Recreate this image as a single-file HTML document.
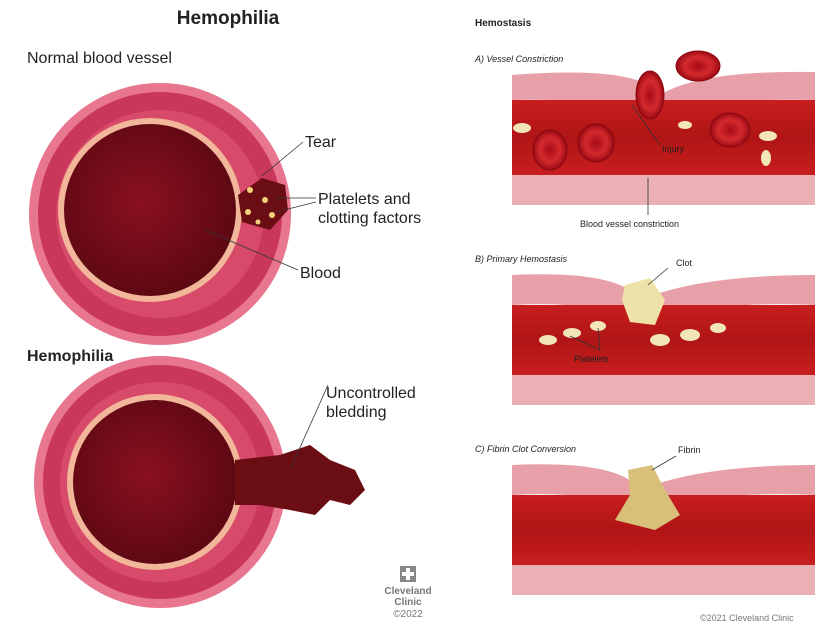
<!DOCTYPE html>
<html><head><meta charset="utf-8"><style>
body{margin:0;background:#fff;}
svg{display:block;font-family:"Liberation Sans",sans-serif;}
</style></head><body>
<svg width="829" height="631" viewBox="0 0 829 631" xmlns="http://www.w3.org/2000/svg">
<defs>
<radialGradient id="lum" cx="45%" cy="45%" r="60%"><stop offset="0" stop-color="#8a1020"/><stop offset="1" stop-color="#5a0812"/></radialGradient>
<linearGradient id="band" x1="0" y1="0" x2="0" y2="1"><stop offset="0" stop-color="#c81e1e"/><stop offset="0.5" stop-color="#b01515"/><stop offset="1" stop-color="#c81e1e"/></linearGradient>
<radialGradient id="rbc" cx="50%" cy="50%" r="50%"><stop offset="0" stop-color="#a80c18"/><stop offset="0.6" stop-color="#d42a2e"/><stop offset="1" stop-color="#9a0a14"/></radialGradient>
</defs>
<text x="228" y="24" font-size="19" font-weight="bold" text-anchor="middle" fill="#222">Hemophilia</text>
<text x="27" y="63" font-size="16" fill="#222">Normal blood vessel</text>
<circle cx="160" cy="214" r="131" fill="#e8768e"/>
<circle cx="160" cy="214" r="122" fill="#c9385a"/>
<circle cx="160" cy="214" r="104" fill="#d84a6a"/>
<ellipse cx="150" cy="210" rx="92" ry="92" fill="#f2b79a"/>
<ellipse cx="150" cy="210" rx="86" ry="86" fill="url(#lum)"/>
<path d="M238 195 L262 178 L285 185 L288 210 L270 230 L242 222 Z" fill="#6b0e14"/>
<g fill="#f5d27a"><circle cx="250" cy="190" r="3"/><circle cx="265" cy="200" r="3"/><circle cx="248" cy="212" r="3"/><circle cx="272" cy="215" r="3"/><circle cx="258" cy="222" r="2.5"/></g>
<g stroke="#333" stroke-width="0.8" fill="none">
<path d="M303 142 L262 176"/><path d="M316 198 L275 198"/><path d="M316 202 L276 212"/><path d="M298 270 L205 230"/>
</g>
<text x="305" y="147" font-size="16" fill="#222">Tear</text>
<text x="318" y="204" font-size="16" fill="#222">Platelets and</text>
<text x="318" y="223" font-size="16" fill="#222">clotting factors</text>
<text x="300" y="278" font-size="16" fill="#222">Blood</text>
<text x="27" y="361" font-size="16" font-weight="bold" fill="#222">Hemophilia</text>
<circle cx="160" cy="482" r="126" fill="#e8768e"/>
<circle cx="160" cy="482" r="117" fill="#c9385a"/>
<circle cx="160" cy="482" r="100" fill="#d84a6a"/>
<circle cx="155" cy="482" r="88" fill="#f2b79a"/>
<circle cx="155" cy="482" r="82" fill="url(#lum)"/>
<path d="M235 460 L280 455 L310 445 L330 460 L355 470 L365 490 L350 505 L330 500 L315 515 L290 510 L260 505 L235 505 Z" fill="#6b0e14"/>
<path d="M328 385 L290 470" stroke="#333" stroke-width="0.8"/>
<text x="326" y="398" font-size="16" fill="#222">Uncontrolled</text>
<text x="326" y="417" font-size="16" fill="#222">bledding</text>
<rect x="400" y="566" width="16" height="16" fill="#888"/><rect x="406" y="568" width="4" height="12" fill="#fff"/><rect x="402" y="572" width="12" height="4" fill="#fff"/>
<text x="408" y="594" font-size="10" font-weight="bold" fill="#777" text-anchor="middle">Cleveland</text>
<text x="408" y="605" font-size="10" font-weight="bold" fill="#777" text-anchor="middle">Clinic</text>
<text x="408" y="617" font-size="10" fill="#777" text-anchor="middle">©2022</text>
<text x="475" y="26" font-size="10" font-weight="bold" fill="#222">Hemostasis</text>
<g font-size="9" font-style="italic" fill="#222">
<text x="475" y="62">A) Vessel Constriction</text>
<text x="475" y="262">B) Primary Hemostasis</text>
<text x="475" y="452">C) Fibrin Clot Conversion</text>
</g>
<g>
<path d="M512 75 Q640 65 660 95 Q700 70 815 72 L815 100 Q700 98 650 115 Q600 98 512 100 Z" fill="#e8a0a8"/>
<rect x="512" y="100" width="303" height="75" fill="url(#band)"/>
<path d="M512 175 L815 175 L815 205 L512 205 Z" fill="#eab0b4"/>
<g fill="url(#rbc)" stroke="#8a0810" stroke-width="1"><ellipse cx="550" cy="150" rx="17" ry="20"/><ellipse cx="596" cy="143" rx="18" ry="19"/><ellipse cx="730" cy="130" rx="20" ry="17"/><ellipse cx="650" cy="95" rx="14" ry="24"/><ellipse cx="698" cy="66" rx="22" ry="15"/></g>
<g fill="#f2e6b8"><ellipse cx="522" cy="128" rx="9" ry="5"/><ellipse cx="768" cy="136" rx="9" ry="5"/><ellipse cx="766" cy="158" rx="5" ry="8"/><ellipse cx="685" cy="125" rx="7" ry="4"/></g>
<path d="M632 105 L660 145 M648 178 L648 215" stroke="#333" stroke-width="0.8"/>
<text x="662" y="152" font-size="9" fill="#222">Injury</text>
<text x="580" y="227" font-size="9" fill="#222">Blood vessel constriction</text>
</g>
<g>
<path d="M512 275 Q620 270 640 300 Q700 275 815 275 L815 305 Q700 300 645 325 Q600 300 512 305 Z" fill="#e8a0a8"/>
<rect x="512" y="305" width="303" height="70" fill="url(#band)"/>
<rect x="512" y="375" width="303" height="30" fill="#eab0b4"/>
<path d="M625 285 L650 278 L665 300 L655 325 L630 322 L622 300 Z" fill="#efe2a8"/>
<g fill="#f2e6b8"><ellipse cx="548" cy="340" rx="9" ry="5"/><ellipse cx="572" cy="333" rx="9" ry="5"/><ellipse cx="598" cy="326" rx="8" ry="5"/><ellipse cx="660" cy="340" rx="10" ry="6"/><ellipse cx="690" cy="335" rx="10" ry="6"/><ellipse cx="718" cy="328" rx="8" ry="5"/></g>
<path d="M668 268 L648 285 M600 350 L598 328 M600 350 L570 336" stroke="#333" stroke-width="0.8"/>
<text x="676" y="266" font-size="9" fill="#222">Clot</text>
<text x="574" y="362" font-size="9" fill="#222">Platelets</text>
</g>
<g>
<path d="M512 465 Q620 460 640 490 Q700 465 815 465 L815 495 Q700 490 645 515 Q600 490 512 495 Z" fill="#e8a0a8"/>
<rect x="512" y="495" width="303" height="70" fill="url(#band)"/>
<rect x="512" y="565" width="303" height="30" fill="#eab0b4"/>
<path d="M628 470 L652 465 L665 490 L680 515 L655 530 L615 520 L630 495 Z" fill="#d9c07a"/>
<path d="M676 456 L652 470" stroke="#333" stroke-width="0.8"/>
<text x="678" y="453" font-size="9" fill="#222">Fibrin</text>
</g>
<text x="700" y="621" font-size="9" fill="#777">©2021 Cleveland Clinic</text>
</svg>
</body></html>
